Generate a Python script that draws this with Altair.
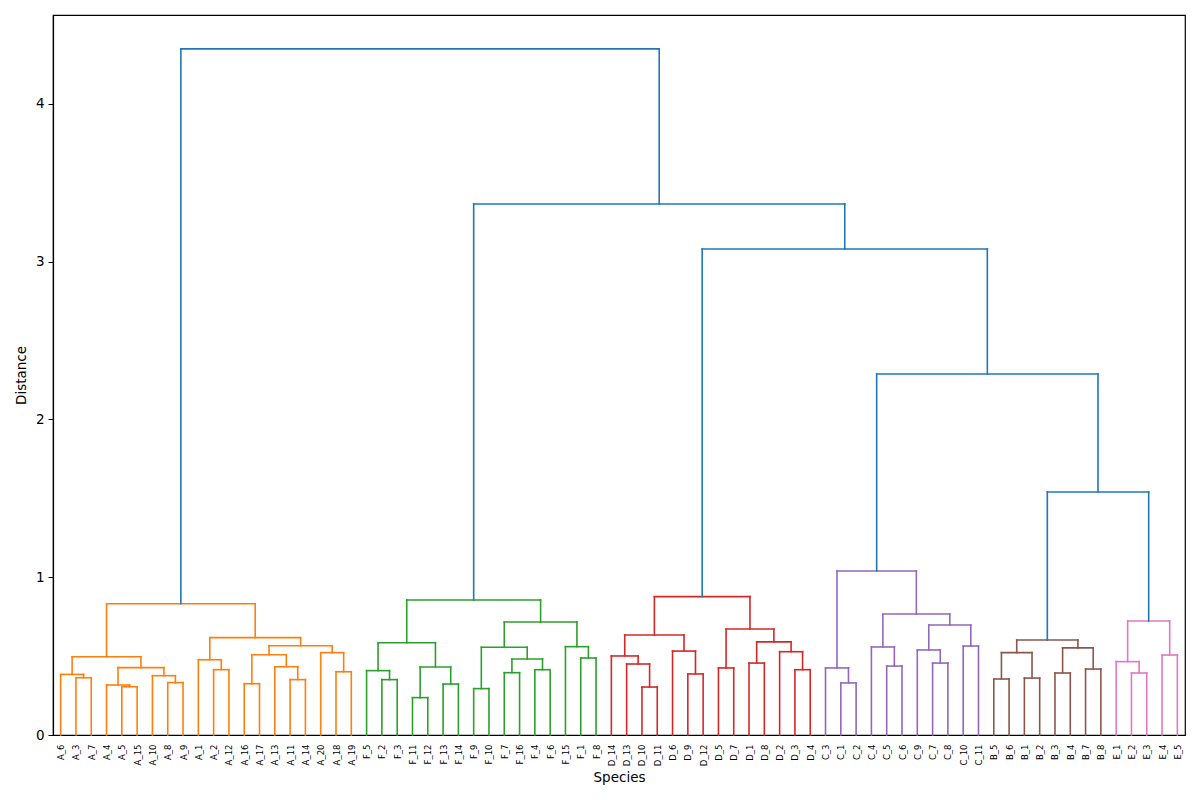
import altair as alt
import pandas as pd

# Dendrogram of species distances: each subtree is (left, right, merge height).
tree_A = (
    (("A_6", ("A_3", "A_7", 0.363), 0.384),
     (("A_4", ("A_5", "A_15", 0.306), 0.317),
      ("A_10", ("A_8", "A_9", 0.332), 0.376), 0.427), 0.496),
    (("A_1", ("A_2", "A_12", 0.414), 0.477),
     ((("A_16", "A_17", 0.325), ("A_13", ("A_11", "A_14", 0.351), 0.433), 0.509),
      ("A_20", ("A_18", "A_19", 0.401), 0.522), 0.566), 0.617),
    0.832,
)
tree_F = (
    (("F_5", ("F_2", "F_3", 0.351), 0.408),
     (("F_11", "F_12", 0.237), ("F_13", "F_14", 0.323), 0.431), 0.585),
    ((("F_9", "F_10", 0.294),
      (("F_7", "F_16", 0.395), ("F_4", "F_6", 0.414), 0.482), 0.556),
     ("F_15", ("F_1", "F_8", 0.488), 0.560), 0.716),
    0.856,
)
tree_D = (
    (("D_14", ("D_13", ("D_10", "D_11", 0.304), 0.450), 0.501),
     ("D_6", ("D_9", "D_12", 0.387), 0.532), 0.634),
    (("D_5", "D_7", 0.425),
     (("D_1", "D_8", 0.456), ("D_2", ("D_3", "D_4", 0.414), 0.528), 0.590), 0.672),
    0.877,
)
tree_C = (
    ("C_3", ("C_1", "C_2", 0.330), 0.425),
    (("C_4", ("C_5", "C_6", 0.437), 0.558),
     (("C_9", ("C_7", "C_8", 0.456), 0.539), ("C_10", "C_11", 0.564), 0.697), 0.767),
    1.040,
)
tree_B = (
    (("B_5", "B_6", 0.355), ("B_1", "B_2", 0.361), 0.522),
    (("B_3", "B_4", 0.393), ("B_7", "B_8", 0.418), 0.552),
    0.602,
)
tree_E = (
    ("E_1", ("E_2", "E_3", 0.393), 0.465),
    ("E_4", "E_5", 0.507),
    0.723,
)

# Clusters in leaf order with their link colours
clusters = [("A", tree_A), ("F", tree_F), ("D", tree_D),
            ("C", tree_C), ("B", tree_B), ("E", tree_E)]
cluster_colors = {"A": "#ff7f0e", "F": "#2ca02c", "D": "#d62728",
                  "C": "#9467bd", "B": "#8c564b", "E": "#e377c2", "top": "#1f77b4"}

# Upper links joining the clusters, innermost first: (left cluster, right cluster, height)
top_joins = [("B", "E", 1.540), ("C", None, 2.288), ("D", None, 3.081),
             ("F", None, 3.366), ("A", None, 4.349)]

segments = []
leaves = []


def add_u(xl, yl, xr, yr, h, grp):
    segments.append(dict(x=xl, y=yl, x2=xl, y2=h, grp=grp))
    segments.append(dict(x=xl, y=h, x2=xr, y2=h, grp=grp))
    segments.append(dict(x=xr, y=yr, x2=xr, y2=h, grp=grp))


def layout(node, grp):
    if isinstance(node, str):
        x = 5 + 10 * len(leaves)
        leaves.append(node)
        return x, 0.0
    left, right, h = node
    xl, yl = layout(left, grp)
    xr, yr = layout(right, grp)
    add_u(xl, yl, xr, yr, h, grp)
    return (xl + xr) / 2, h


roots = {}
for name, t in clusters:
    roots[name] = layout(t, name)

# Upper (blue) links, built from the right end inwards
cur = None
for a, b, h in top_joins:
    (xl, yl) = roots[a]
    (xr, yr) = roots[b] if b is not None else cur
    add_u(xl, yl, xr, yr, h, "top")
    cur = ((xl + xr) / 2, h)

df = pd.DataFrame(segments)
n = len(leaves)
tick_pos = [5 + 10 * i for i in range(n)]
label_arr = "[" + ",".join("'" + s + "'" for s in leaves) + "]"

font = "DejaVu Sans"
chart = alt.Chart(df).mark_rule(strokeWidth=1.6, strokeCap="square").encode(
    x=alt.X("x:Q", scale=alt.Scale(domain=[0, 10 * n], nice=False, zero=False),
            axis=alt.Axis(values=tick_pos, labelExpr=label_arr + "[floor((datum.value - 5) / 10)]",
                          labelAngle=270, labelFontSize=8.5, labelFont=font, labelColor="black",
                          ticks=False, labelPadding=9, grid=False, domainColor="black",
                          domainWidth=1.2,
                          title="Species", titleFont=font, titleFontSize=13.5,
                          titleFontWeight="normal", titlePadding=5, titleColor="black",
                          labelOverlap=False, labelBound=False, labelFlush=False)),
    x2="x2:Q",
    y=alt.Y("y:Q", scale=alt.Scale(domain=[0, 4.564], nice=False),
            axis=alt.Axis(values=[0, 1, 2, 3, 4], format="d", tickSize=5, tickColor="black",
                          labelFontSize=13.5, labelFont=font, labelColor="black", labelPadding=4,
                          grid=False, domainColor="black", domainWidth=1.2,
                          title="Distance", titleFont=font, titleFontSize=13.5,
                          titleFontWeight="normal", titlePadding=7, titleColor="black")),
    y2="y2:Q",
    color=alt.Color("grp:N", legend=None,
                    scale=alt.Scale(domain=list(cluster_colors.keys()),
                                    range=list(cluster_colors.values()))),
).properties(
    width=1132, height=720,
    autosize=alt.AutoSizeParams(type="none"),
    padding={"left": 53, "top": 15, "right": 15, "bottom": 65},
).configure(
    background="white",
    view=alt.ViewConfig(stroke="black", strokeWidth=1.2),
)

chart.save("out.html", embed_options={"renderer": "svg", "actions": False})
